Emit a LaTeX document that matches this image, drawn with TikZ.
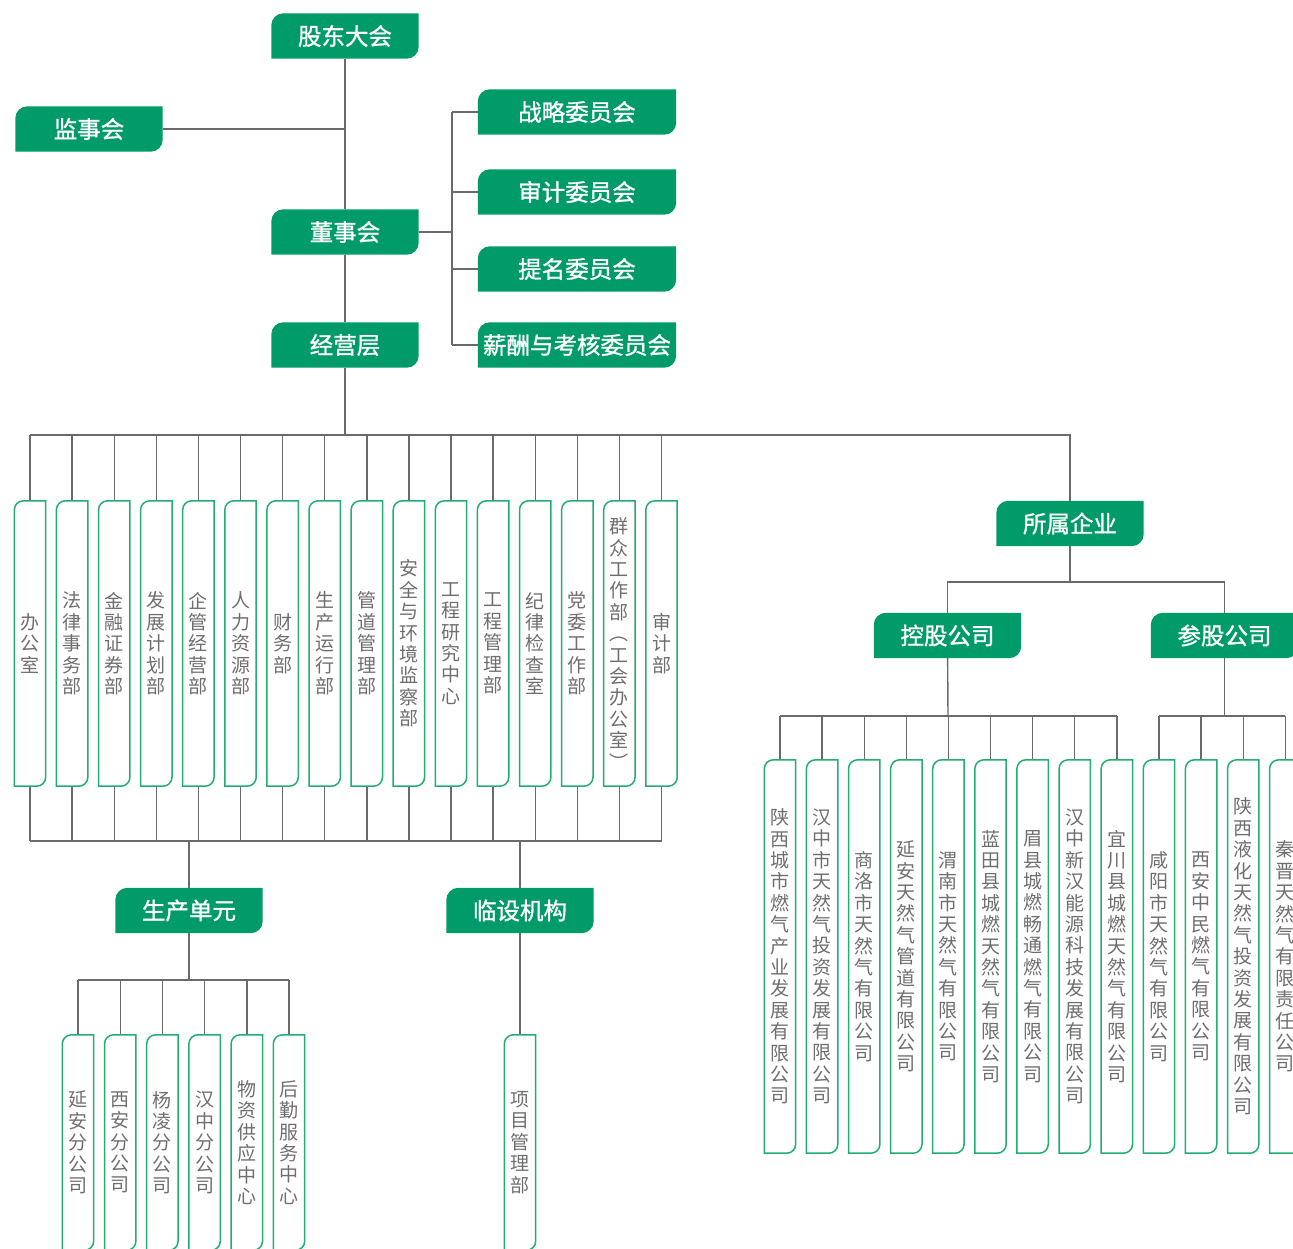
\documentclass[tikz,border=0pt]{standalone}
\usepackage{fontspec}
\setmainfont{Noto Sans CJK SC}
\newfontfamily\headfont[FakeBold=1.2]{Noto Sans CJK SC}
\XeTeXlinebreaklocale "zh"
\XeTeXlinebreakskip=0pt plus 1pt
\usetikzlibrary{backgrounds}

\definecolor{hdgreen}{HTML}{009B68}
\definecolor{boxgreen}{HTML}{22AD72}
\definecolor{linegray}{HTML}{6A6A6A}
\definecolor{txtgray}{HTML}{6E6E6E}

\tikzset{
  head/.style={minimum width=147pt, minimum height=45pt, inner sep=0pt, text=white,
    font=\headfont\fontsize{23.5}{26}\selectfont},
  unit/.style={minimum width=31pt, inner sep=0pt, text width=20pt, align=center,
    text=txtgray, font=\fontsize{19}{21.4}\selectfont},
  link/.style={draw=linegray, line width=1.4pt},
}

% box with the top left and bottom right corners rounded
\newcommand\leaf[3]{%
  \path[#3] (#1.south west) -- ([yshift=-#2]#1.north west)
    arc[start angle=180, end angle=90, radius=#2] -- (#1.north east)
    -- ([yshift=#2]#1.south east) arc[start angle=0, end angle=-90, radius=#2] -- cycle;}

\begin{document}
\begin{tikzpicture}[x=1pt, y=1pt]
    \useasboundingbox (0,0) rectangle (1293,-1248);

    % governance
    \node[head] (gm) at (345,-36) {股东大会};
    \node[head] (sup) at (89,-129) {监事会};
    \node[head] (board) at (345,-232) {董事会};
    \node[head] (mgmt) at (345,-345) {经营层};
    \node[head, minimum width=198pt] (strat) at (577,-112) {战略委员会};
    \node[head, minimum width=198pt] (audit) at (577,-192) {审计委员会};
    \node[head, minimum width=198pt] (nom) at (577,-269) {提名委员会};
    \node[head, minimum width=198pt] (pay) at (577,-345) {薪酬与考核委员会};
    \coordinate (ck) at (452,-232);
    \coordinate (deptbus) at (345,-435);
    \coordinate (botbus) at (345,-841);

    \draw[link] (gm) -- (board);
    \draw[link] (sup) -- (sup -| gm);
    \draw[link] (board) -- (mgmt);
    \draw[link] (mgmt) -- (deptbus);
    \draw[link] (board) -- (ck);
    \draw[link] (strat.west -| ck) -- (pay.west -| ck);
    \foreach \c in {strat,audit,nom,pay}
      \draw[link] (\c.west) -- (\c.west -| ck);

    % departments
    \foreach \t [count=\i from 0] in {办公室,法律事务部,金融证券部,发展计划部,企管经营部,人力资源部,
        财务部,生产运行部,管道管理部,安全与环境监察部,工程研究中心,工程管理部,纪律检查室,党委工作部,
        {群众工作部\\︵\\工会办公室\\︶},审计部} {
      \node[unit, minimum height=285pt] (d\i) at (30+42.1*\i,-643.5) {\t};
      \draw[link] (d\i.north) -- (d\i.north |- deptbus);
      \draw[link] (d\i.south) -- (d\i.south |- botbus);
    }
    \draw[link] (d0.south |- botbus) -- (d15.south |- botbus);

    % production units and temporary bodies
    \node[head] (prod) at (189,-910.5) {生产单元};
    \node[head] (temp) at (520,-910.5) {临设机构};
    \coordinate (pbus) at (189,-980);
    \draw[link] (prod.north |- botbus) -- (prod);
    \draw[link] (temp.north |- botbus) -- (temp);
    \draw[link] (prod) -- (pbus);
    \foreach \t [count=\i from 0] in {延安分公司,西安分公司,杨凌分公司,汉中分公司,物资供应中心,后勤服务中心} {
      \node[unit, minimum height=215pt] (p\i) at (78+42.2*\i,-1142.5) {\t};
      \draw[link] (p\i.north) -- (p\i.north |- pbus);
    }
    \draw[link] (p0.north |- pbus) -- (p5.north |- pbus);
    \node[unit, minimum height=215pt] (proj) at (520,-1142.5) {项目管理部};
    \draw[link] (temp) -- (proj);

    % subsidiaries
    \node[head] (ent) at (1070,-523.5) {所属企业};
    \node[head] (hold) at (947.5,-635.5) {控股公司};
    \node[head] (share) at (1224.5,-635.5) {参股公司};
    \coordinate (ebus) at (1070,-582);
    \coordinate (hbus) at (948,-716);
    \draw[link] (d0.north |- deptbus) -- (ent.north |- deptbus) -- (ent);
    \draw[link] (ent) -- (ebus);
    \draw[link] (hold) |- (share |- ebus) -- (share);
    \draw[link] (hold) -- (hbus);
    \draw[link] (share) -- (share |- hbus);
    \foreach \t [count=\i from 0] in {陕西城市燃气产业发展有限公司,汉中市天然气投资发展有限公司,商洛市天然气有限公司,
        延安天然气管道有限公司,渭南市天然气有限公司,蓝田县城燃天然气有限公司,眉县城燃畅通燃气有限公司,
        汉中新汉能源科技发展有限公司,宜川县城燃天然气有限公司} {
      \node[unit, minimum height=393pt] (h\i) at (780+42.1*\i,-956.5) {\t};
      \draw[link] (h\i.north) -- (h\i.north |- hbus);
    }
    \draw[link] (h0.north |- hbus) -- (h8.north |- hbus);
    \foreach \t [count=\i from 0] in {咸阳市天然气有限公司,西安中民燃气有限公司,陕西液化天然气投资发展有限公司,
        秦晋天然气有限责任公司} {
      \node[unit, minimum height=393pt] (s\i) at (1159+42.1*\i,-956.5) {\t};
      \draw[link] (s\i.north) -- (s\i.north |- hbus);
    }
    \draw[link] (s0.north |- hbus) -- (s3.north |- hbus);

    % box outlines
    \begin{pgfonlayer}{background}
      \foreach \n in {gm,sup,board,mgmt,strat,audit,nom,pay,prod,temp,ent,hold,share}
        \leaf{\n}{12pt}{fill=hdgreen};
    \end{pgfonlayer}
    \foreach \n in {d0,d1,d2,d3,d4,d5,d6,d7,d8,d9,d10,d11,d12,d13,d14,d15,p0,p1,p2,p3,p4,p5,proj,
        h0,h1,h2,h3,h4,h5,h6,h7,h8,s0,s1,s2,s3}
      \leaf{\n}{9pt}{draw=boxgreen, line width=1.5pt};
\end{tikzpicture}
\end{document}
